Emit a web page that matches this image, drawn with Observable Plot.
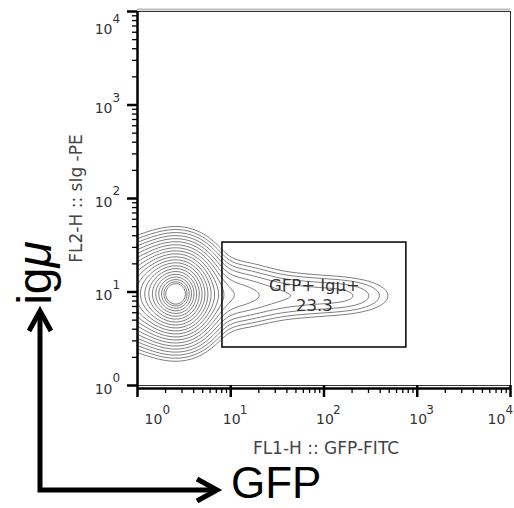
<!DOCTYPE html>
<html><head><meta charset="utf-8">
<script src="https://cdn.jsdelivr.net/npm/d3@7"></script>
<script src="https://cdn.jsdelivr.net/npm/@observablehq/plot@0.6"></script>
<style>html,body{margin:0;padding:0;background:#fff}svg{display:block}</style>
</head><body><div id="chart"></div>
<script>
// axis decades (log10) and their exponent labels
const decades = [0, 1, 2, 3, 4];
const exponentLabels = ["0", "1", "2", "3", "4"];
const minorMultipliers = [2, 3, 4, 5, 6, 7, 8, 9];
// cell populations (log10 centre, log10 spread, relative weight)
const popLogX = [0.43, 0.10, 0.95, 1.60, 2.25];
const popLogY = [0.98, 0.98, 0.97, 0.96, 0.96];
const popSpreadX = [0.19, 0.22, 0.30, 0.40, 0.28];
const popSpreadY = [0.22, 0.22, 0.17, 0.13, 0.11];
const popWeight = [1.0, 0.25, 0.05, 0.025, 0.015];
// contour levels (fraction of peak density)
const contourLevels = [0.0051, 0.0082, 0.0129, 0.0198, 0.0298, 0.0439, 0.0632, 0.0889, 0.1223, 0.1644,
  0.2163, 0.2780, 0.3490, 0.4296, 0.5161, 0.6065, 0.6968, 0.7827, 0.8596, 0.9231, 0.9692];
// gate
const gateX = [8.15, 764];
const gateY = [2.55, 33.8];
const gateName = "GFP+ Igμ+";
const gatePercent = "23.3";
const xTitle = "FL1-H :: GFP-FITC";
const yTitle = "FL2-H :: sIg -PE";

function density(x, y) {
  const lx = Math.log10(x), ly = Math.log10(y);
  let s = 0;
  for (let i = 0; i < popLogX.length; i++) {
    const dx = (lx - popLogX[i]) / popSpreadX[i];
    const dy = (ly - popLogY[i]) / popSpreadY[i];
    s += popWeight[i] * Math.exp(-(dx * dx + dy * dy) / 2);
  }
  return s;
}

const majorTicks = decades.map(d => 10 ** d);
const minorTicks = decades.slice(0, -1).flatMap(d => minorMultipliers.map(m => m * 10 ** d));
const gateRows = [{x1: gateX[0], x2: gateX[1], y1: gateY[0], y2: gateY[1],
  label: gateName + "\n" + gatePercent}];

const font = "DejaVu Sans";
const tickColor = "#333";

const plot = Plot.plot({
  width: 514, height: 508,
  marginLeft: 137, marginRight: 4, marginTop: 11, marginBottom: 123,
  x: {type: "log", domain: [1, 1e4], axis: null},
  y: {type: "log", domain: [1, 1e4], axis: null},
  style: {fontFamily: font, background: "white", overflow: "visible"},
  marks: [
    Plot.contour({value: density, x1: 1, x2: 1e4, y1: 1, y2: 1e4, thresholds: contourLevels,
      fill: "none", stroke: "#707070", strokeWidth: 0.9, pixelSize: 1}),
    Plot.rect(gateRows, {x1: "x1", x2: "x2", y1: "y1", y2: "y2", fill: "none", stroke: "black", strokeWidth: 1.5}),
    Plot.text(gateRows, {x: d => Math.sqrt(d.x1 * d.x2), y: d => Math.sqrt(d.y1 * d.y2), text: "label",
      fontSize: 16.5, fill: "#333", lineHeight: 1.2}),
    Plot.ruleY([1e4], {dy: -2, stroke: "#bbb", strokeWidth: 2}),
    Plot.frame({stroke: "#333", strokeWidth: 1}),
    Plot.ruleX([1], {stroke: "black", strokeWidth: 2.5}),
    Plot.ruleY([1], {dy: 3, stroke: "black", strokeWidth: 2.5}),
    Plot.axisX(minorTicks, {anchor: "bottom", tickSize: 5, dy: 3, tickFormat: () => "", label: null, stroke: "black", strokeWidth: 1.3}),
    Plot.axisX(majorTicks, {anchor: "bottom", tickSize: 12, tickFormat: () => "", label: null, stroke: "black", strokeWidth: 2.5}),
    Plot.axisY(minorTicks, {anchor: "left", tickSize: 5, tickFormat: () => "", label: null, stroke: "black", strokeWidth: 1.3}),
    Plot.axisY(majorTicks, {anchor: "left", tickSize: 10, tickFormat: () => "", label: null, stroke: "black", strokeWidth: 2.5}),
    // x tick labels
    Plot.text(decades.slice(1, -1), {x: d => 10 ** d, frameAnchor: "bottom", dy: 38, dx: 1, text: () => "10", fontSize: 14, fill: tickColor}),
    Plot.text(decades.slice(1, -1), {x: d => 10 ** d, frameAnchor: "bottom", dy: 28, dx: 9, textAnchor: "start", text: d => exponentLabels[d], fontSize: 12, fill: tickColor}),
    Plot.text([decades[0]], {x: d => 10 ** d, frameAnchor: "bottom", dy: 38, dx: 16, text: () => "10", fontSize: 14, fill: tickColor}),
    Plot.text([decades[0]], {x: d => 10 ** d, frameAnchor: "bottom", dy: 28, dx: 25, textAnchor: "start", text: d => exponentLabels[d], fontSize: 12, fill: tickColor}),
    Plot.text([decades[4]], {x: d => 10 ** d, frameAnchor: "bottom", dy: 38, dx: -14, text: () => "10", fontSize: 14, fill: tickColor}),
    Plot.text([decades[4]], {x: d => 10 ** d, frameAnchor: "bottom", dy: 28, dx: -5, textAnchor: "start", text: d => exponentLabels[d], fontSize: 12, fill: tickColor}),
    // y tick labels
    Plot.text(decades.slice(0, -1), {y: d => 10 ** d, frameAnchor: "left", dx: -25, dy: 4, textAnchor: "end", text: () => "10", fontSize: 14, fill: tickColor}),
    Plot.text(decades.slice(0, -1), {y: d => 10 ** d, frameAnchor: "left", dx: -25, dy: -7, textAnchor: "start", text: d => exponentLabels[d], fontSize: 12, fill: tickColor}),
    Plot.text([decades[4]], {y: d => 10 ** d, frameAnchor: "left", dx: -25, dy: 18, textAnchor: "end", text: () => "10", fontSize: 14, fill: tickColor}),
    Plot.text([decades[4]], {y: d => 10 ** d, frameAnchor: "left", dx: -25, dy: 8, textAnchor: "start", text: d => exponentLabels[d], fontSize: 12, fill: tickColor}),
    // axis titles
    Plot.text([xTitle], {frameAnchor: "bottom", dy: 68, dx: 2, text: d => d, fontSize: 17, fill: "#444"}),
    Plot.text([yTitle], {frameAnchor: "left", dx: -61, dy: 0, textAnchor: "middle", text: d => d, rotate: -90, fontSize: 17, fill: "#444"})
  ]
});

// annotation: arrows and big channel names
const svg = d3.select(plot);
const ann = svg.append("g").attr("fill", "none").attr("stroke", "black").attr("stroke-width", 5);
ann.append("polyline").attr("points", "40,312 40,490 216,490").attr("stroke-linejoin", "miter").attr("stroke-linecap", "butt");
ann.append("polyline").attr("points", "29,331 40,311 51,331").attr("stroke-linejoin", "miter");
ann.append("polyline").attr("points", "197,479 217,490 197,501").attr("stroke-linejoin", "miter");
const big = svg.append("g").attr("font-family", "Liberation Sans, Arial, sans-serif").attr("fill", "black");
big.append("text").attr("x", 231).attr("y", 498).attr("text-anchor", "start").attr("font-size", 44).text("GFP");
const ig = big.append("text").attr("transform", "translate(51,273) rotate(-90)").attr("text-anchor", "middle").attr("font-size", 48);
ig.append("tspan").text("ig");
ig.append("tspan").attr("font-style", "italic").text("μ");

document.getElementById("chart").append(plot);
</script>
</body></html>
